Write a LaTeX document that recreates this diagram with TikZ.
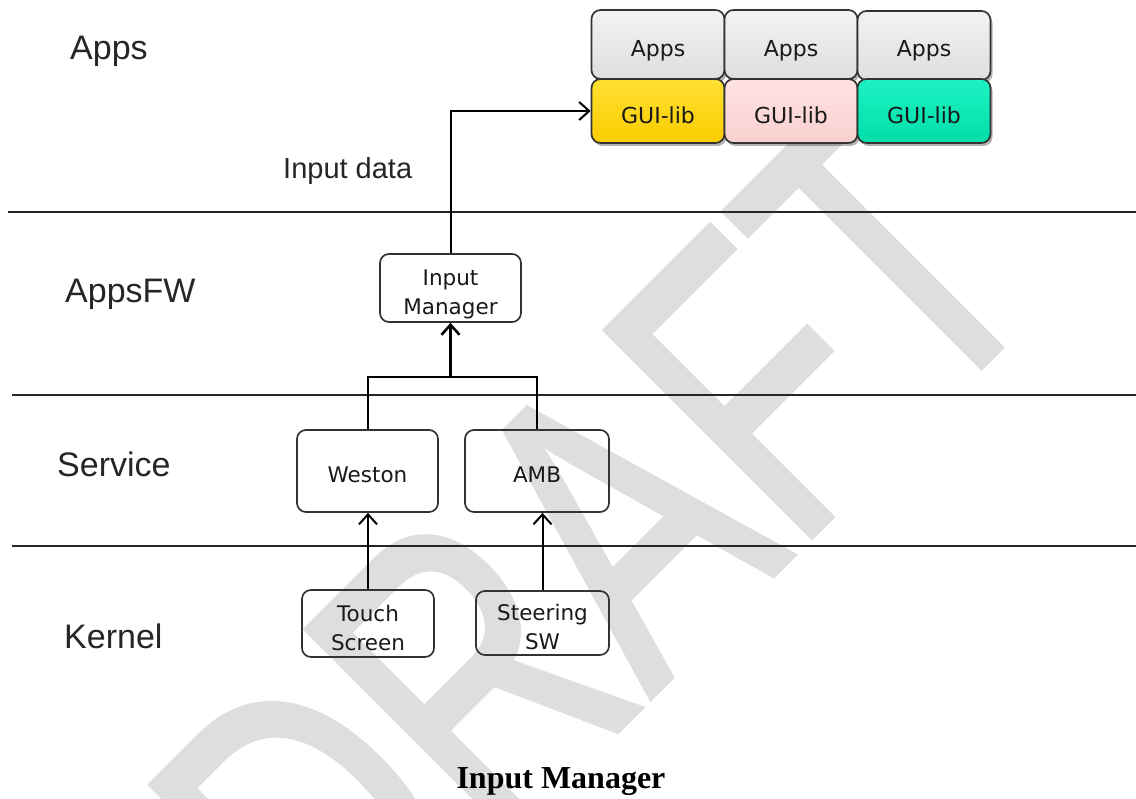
\documentclass[tikz,border=0pt]{standalone}
\usepackage{fontspec}
\usepackage{graphicx}
\setmainfont{Liberation Sans}
\newfontfamily\boxfont{DejaVu Sans}
\newfontfamily\capfont{Liberation Serif}
\newfontfamily\wmfont[FakeBold=1.5]{Liberation Sans}
\usetikzlibrary{arrows.meta,shadows}
\definecolor{appgA}{RGB}{242,242,242}
\definecolor{appgB}{RGB}{222,222,222}
\definecolor{yelA}{RGB}{255,224,50}
\definecolor{yelB}{RGB}{250,204,0}
\definecolor{pinkA}{RGB}{255,226,226}
\definecolor{pinkB}{RGB}{250,208,208}
\definecolor{tealA}{RGB}{30,242,195}
\definecolor{tealB}{RGB}{0,222,168}
\begin{document}
\begin{tikzpicture}[x=1pt,y=-1pt,
  sep/.style={line width=1.9pt, draw=black!85},
  conn/.style={line width=2pt, draw=black},
  arr/.style={conn, -{Straight Barb[length=10pt,width=18pt]}},
  layer/.style={anchor=base west, inner sep=0pt, font=\fontsize{34}{40}\selectfont, text=black!85},
  wbox/.style={draw=black!80, line width=1.7pt, rounded corners=9pt, inner sep=0pt},
  cbox/.style={wbox, minimum width=133pt,
     drop shadow={shadow xshift=2pt, shadow yshift=-3pt, opacity=0.3, fill=black}},
  btext/.style={inner sep=0pt, align=center, text=black!90,
     font=\boxfont\fontsize{21.5}{29}\selectfont},
  ctext/.style={anchor=base, inner sep=0pt, text=black!90,
     font=\boxfont\fontsize{22}{26}\selectfont},
]
\fill[white] (0,0) rectangle (1136,799);
\useasboundingbox (0,0) rectangle (1136,799);
% watermark
\begin{scope}
\clip (0,0) rectangle (1136,799);
\node[anchor=base west, rotate=45, inner sep=0pt, text=black!13] (wm) at (339,1009)
  {\wmfont\fontsize{423}{423}\selectfont\scalebox{0.72}[1]{DRAFT}};
\end{scope}
% layer separators
\draw[sep] (8,212) -- (1136,212);
\draw[sep] (12,395) -- (1136,395);
\draw[sep] (12,546) -- (1136,546);
% layer labels
\node[layer] (lapps) at (70,60) {Apps};
\node[layer] (lfw) at (65,303) {AppsFW};
\node[layer] (lsvc) at (57,477) {Service};
\node[layer] (lker) at (64,648) {Kernel};
\node[anchor=base west, inner sep=0pt, font=\fontsize{29}{34}\selectfont, text=black!85] (idata) at (283,179) {Input data};
% app boxes
\node[cbox, minimum height=69pt, top color=appgA, bottom color=appgB] (a1) at (658,44.5) {};
\node[cbox, minimum height=69pt, top color=appgA, bottom color=appgB] (a2) at (791,44.5) {};
\node[cbox, minimum height=69pt, top color=appgA, bottom color=appgB] (a3) at (924,45.5) {};
\node[cbox, minimum height=64pt, top color=yelA, bottom color=yelB] (g1) at (658,111) {};
\node[cbox, minimum height=64pt, top color=pinkA, bottom color=pinkB] (g2) at (791,111) {};
\node[cbox, minimum height=64pt, top color=tealA, bottom color=tealB] (g3) at (924,111) {};
\node[ctext] (a1t) at (658,57) {Apps};
\node[ctext] (a2t) at (791,57) {Apps};
\node[ctext] (a3t) at (924,57) {Apps};
\node[ctext] (g1t) at (658,124) {GUI-lib};
\node[ctext] (g2t) at (791,124) {GUI-lib};
\node[ctext] (g3t) at (924,124) {GUI-lib};
% white boxes
\node[wbox, minimum width=141pt, minimum height=68pt] (im) at (450.5,288) {};
\node[wbox, minimum width=141pt, minimum height=82pt] (weston) at (367.5,471) {};
\node[wbox, minimum width=144pt, minimum height=82pt] (amb) at (537,471) {};
\node[wbox, minimum width=132pt, minimum height=67pt] (touch) at (368,623.5) {};
\node[wbox, minimum width=133pt, minimum height=64pt] (steer) at (542.5,623) {};
\node[btext] (imt) at (450.5,294) {Input\\Manager};
\node[btext, anchor=base] (westont) at (367.5,483) {Weston};
\node[btext, anchor=base] (ambt) at (537,483) {AMB};
\node[btext] (toucht) at (368,628) {Touch\\Screen};
\node[btext] (steert) at (542.5,627) {Steering\\SW};
% connectors
\coordinate (j) at (450.5,377);
\draw[conn] (weston.north) |- (j) -| (amb.north);
\draw[arr, line width=2.6pt] (j) -- (im.south);
\draw[arr] (touch.north) -- (touch.north |- weston.south);
\draw[arr] (steer.north) -- (steer.north |- amb.south);
\draw[arr] (im.north) |- (g1.west);
% caption
\node[anchor=base, inner sep=0pt, font=\capfont\bfseries\fontsize{32}{38}\selectfont] (cap) at (561,788) {Input Manager};
\end{tikzpicture}
\end{document}
